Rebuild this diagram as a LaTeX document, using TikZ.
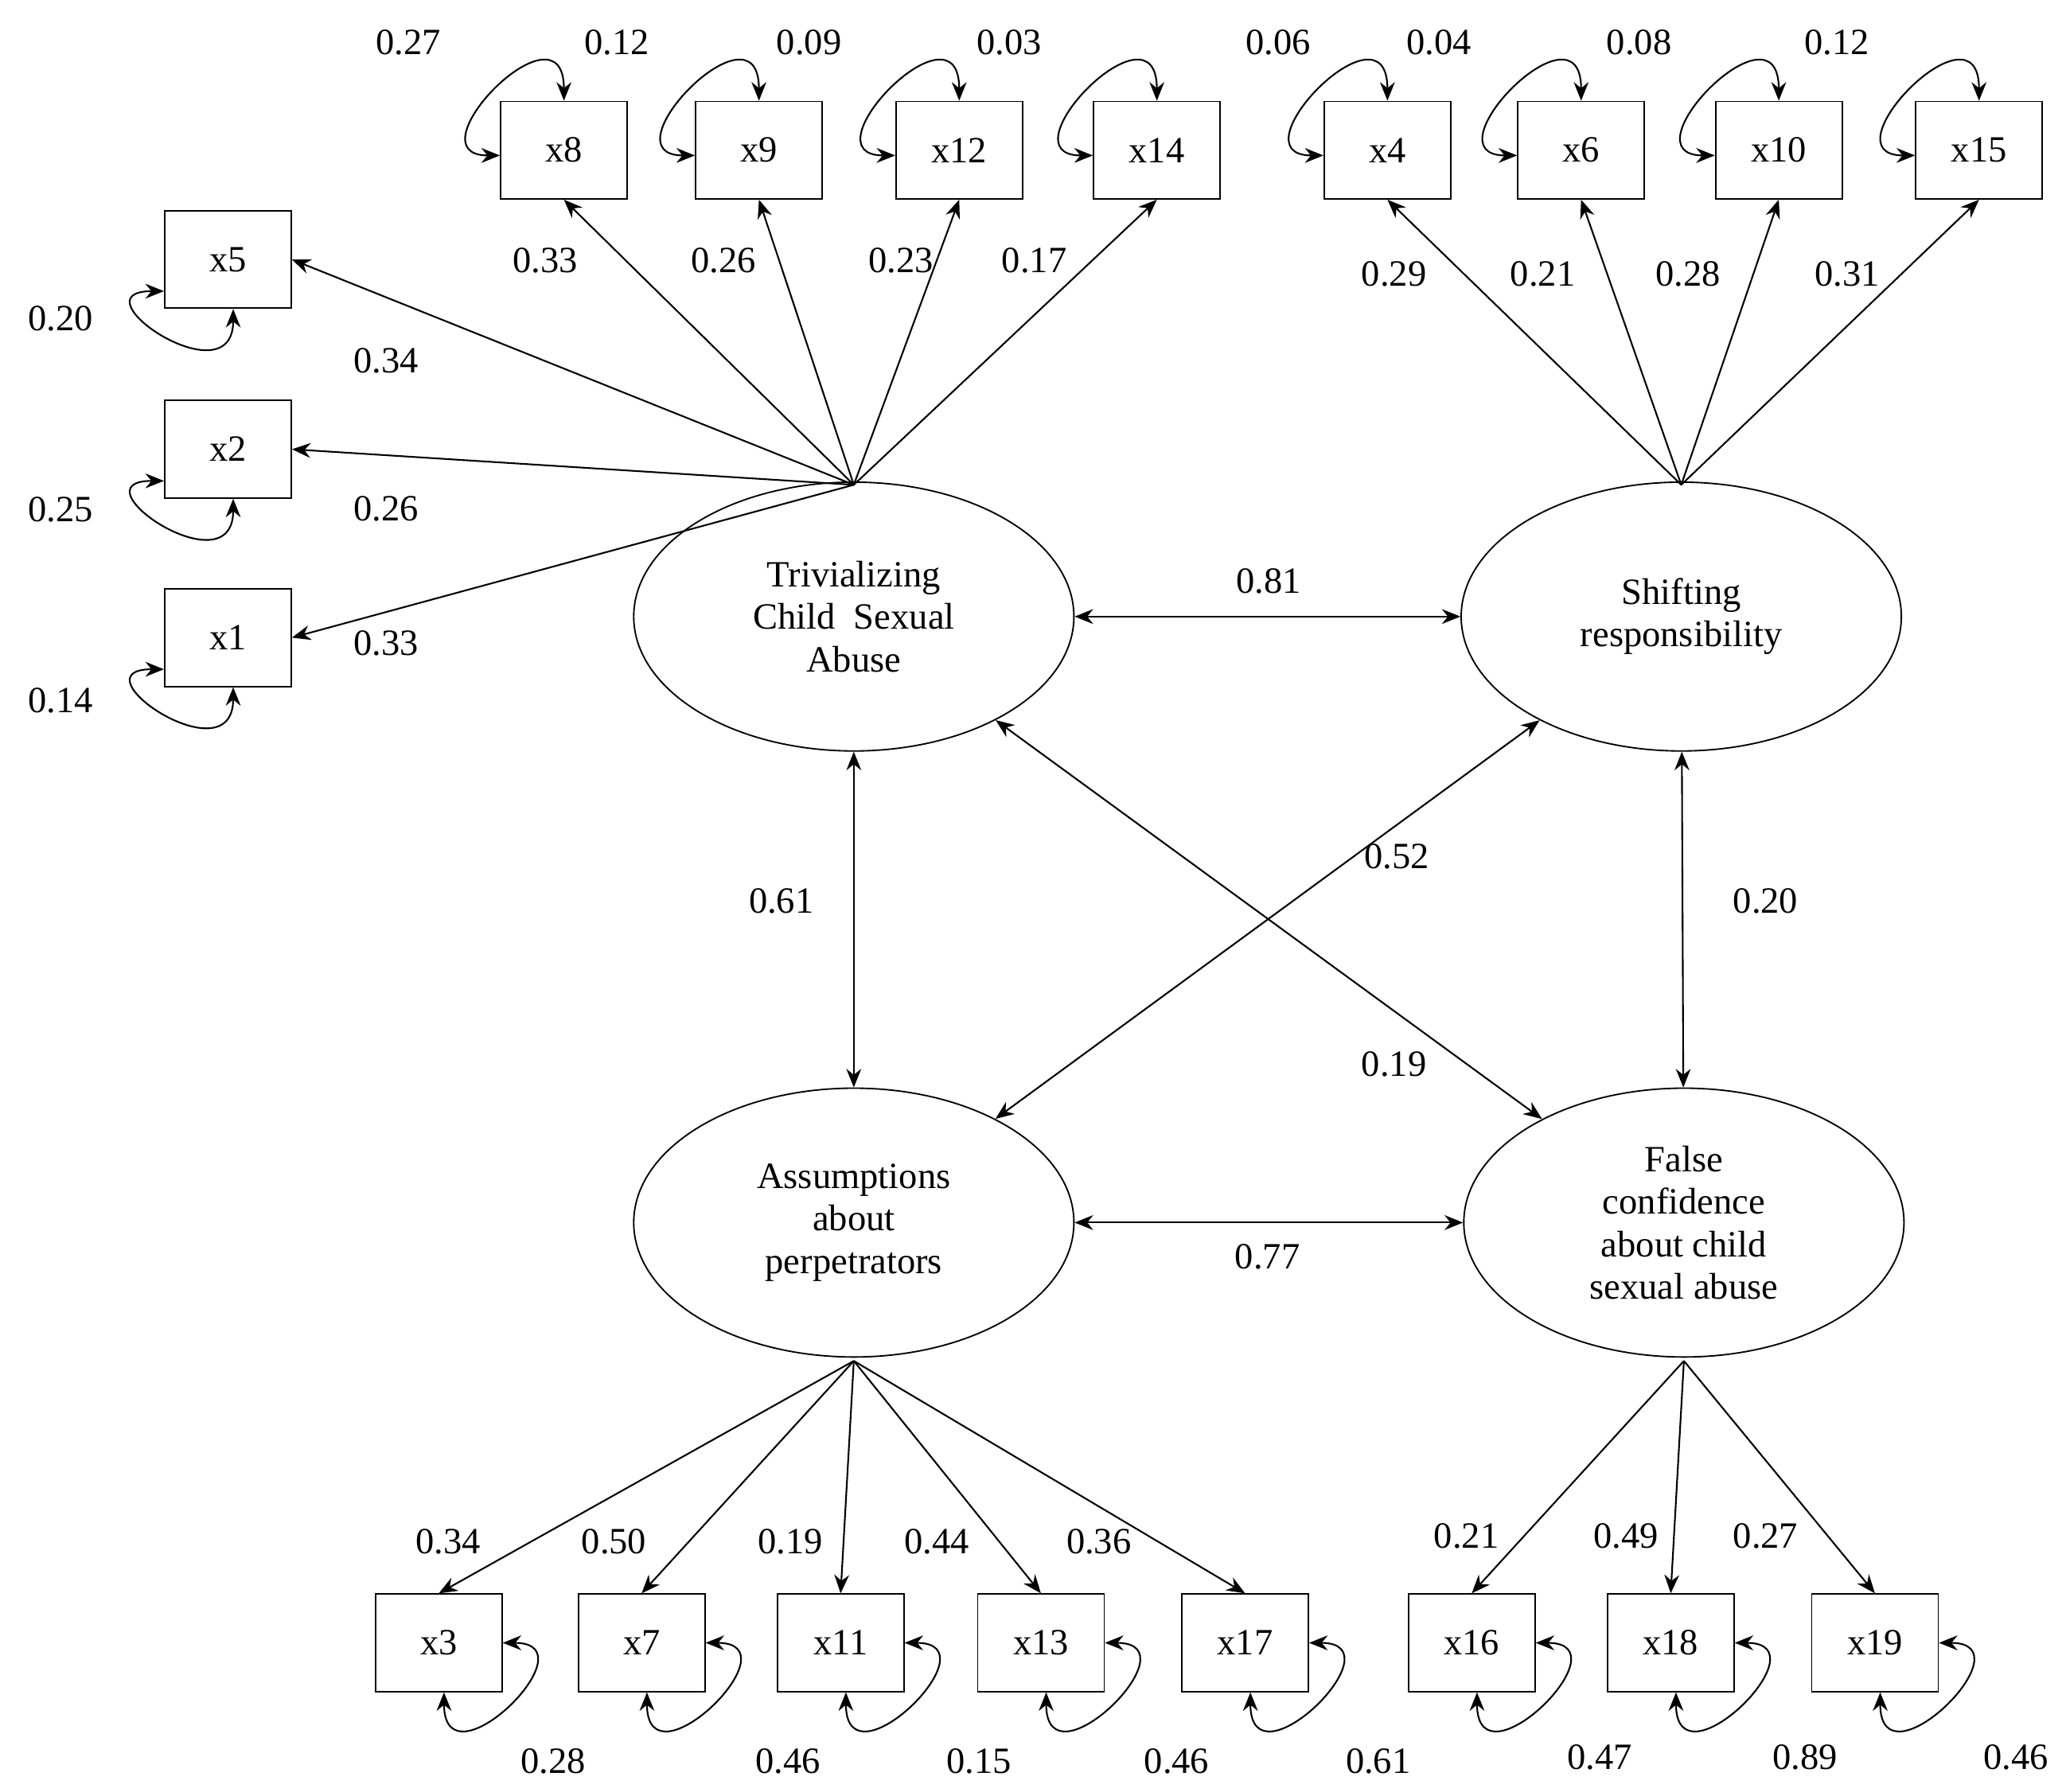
\documentclass[tikz,border=0pt]{standalone}
\usepackage{fontspec}
\setmainfont{Liberation Serif}
\usetikzlibrary{shapes.geometric,arrows.meta}
\begin{document}
\begin{tikzpicture}[x=0.025cm,y=-0.025cm,
  font=\fontsize{20}{23}\selectfont,
  box/.style={draw,line width=0.8pt,minimum width=2.4cm,minimum height=1.85cm,inner sep=0pt},
  lat/.style={draw,line width=0.8pt,ellipse,minimum width=8.35cm,minimum height=5.1cm,inner sep=0pt,align=center},
  arr/.style={line width=0.9pt,-{Stealth[length=10pt,width=8pt]}},
  dbl/.style={line width=0.9pt,{Stealth[length=10pt,width=8pt]}-{Stealth[length=10pt,width=8pt]}},
  lab/.style={inner sep=1pt}]
\useasboundingbox (0,0) rectangle (1568,1360);
% latent
\node[lat] (T) at (648,468) {Trivializing\\Child\ \ Sexual\\Abuse};
\node[lat] (S) at (1276,468) {Shifting\\responsibility};
\node[lat] (A) at (648,928) {Assumptions\\about\\perpetrators};
\node[lat] (F) at (1278,928) {False\\confidence\\about child\\sexual abuse};
\coordinate (Tt) at (648,368);
\coordinate (St) at (1276,368);
\coordinate (Ab) at (648,1033);
\coordinate (Fb) at (1278,1033);
% top boxes
\foreach \n/\x in {x8/428,x9/576,x12/728,x14/878,x4/1053,x6/1200,x10/1350,x15/1502}
  \node[box] (\n) at (\x,114) {\n};
\foreach \n/\y in {x5/197,x2/341,x1/484}
  \node[box] (\n) at (173,\y) {\n};
\foreach \n/\x in {x3/333,x7/487,x11/638,x13/790,x17/945,x16/1117,x18/1268,x19/1423}
  \node[box] (\n) at (\x,1247) {\n};
% loadings
\foreach \n in {x8,x9,x12,x14} \draw[arr] (Tt) -- (\n.south);
\foreach \n in {x5,x2,x1} \draw[arr] (Tt) -- (\n.east);
\foreach \n in {x4,x6,x10,x15} \draw[arr] (St) -- (\n.south);
\foreach \n in {x3,x7,x11,x13,x17} \draw[arr] (Ab) -- (\n.north);
\foreach \n in {x16,x18,x19} \draw[arr] (Fb) -- (\n.north);
% variances loops
\foreach \n in {x8,x9,x12,x14,x4,x6,x10,x15}
  \draw[dbl] ([yshift=-0.1cm]\n.west) .. controls +(-70,0) and +(0,-80) .. (\n.north);
\foreach \n in {x5,x2,x1}
  \draw[dbl] ([yshift=-0.6cm]\n.west) .. controls +(-70,0) and +(0,70) .. ([xshift=0.1cm]\n.south);
\foreach \n in {x3,x7,x11,x13,x17,x16,x18,x19}
  \draw[dbl] (\n.east) .. controls +(70,0) and +(0,75) .. ([xshift=0.1cm]\n.south);
% correlations
\draw[dbl] (T) -- (S);
\draw[dbl] (T) -- (A);
\draw[dbl] (S) -- (F);
\draw[dbl] (T) -- (F);
\draw[dbl] (S) -- (A);
\draw[dbl] (A) -- (F);
% labels
\foreach \t/\x/\y [count=\i] in {0.27/310/32,0.12/468/32,0.09/614/32,0.03/766/32,0.06/970/32,0.04/1092/32,0.08/1244/32,0.12/1394/32,
  0.33/414/198,0.26/549/198,0.23/684/198,0.17/785/198,0.29/1058/208,0.21/1171/208,0.28/1281/208,0.31/1402/208,
  0.34/293/274,0.26/293/386,0.33/293/488,0.20/46/242,0.25/46/387,0.14/46/532,
  0.81/963/441,0.61/593/684,0.52/1060/650,0.20/1340/684,0.19/1058/808,0.77/962/954,
  0.34/340/1170,0.50/466/1170,0.19/600/1170,0.44/711/1170,0.36/834/1170,0.21/1113/1166,0.49/1234/1166,0.27/1340/1166,
  0.28/420/1337,0.46/598/1337,0.15/743/1337,0.46/893/1337,0.61/1046/1337,0.47/1214/1334,0.89/1370/1334,0.46/1530/1334}
  \node[lab] (l\i) at (\x,\y) {\t};
\end{tikzpicture}
\end{document}
